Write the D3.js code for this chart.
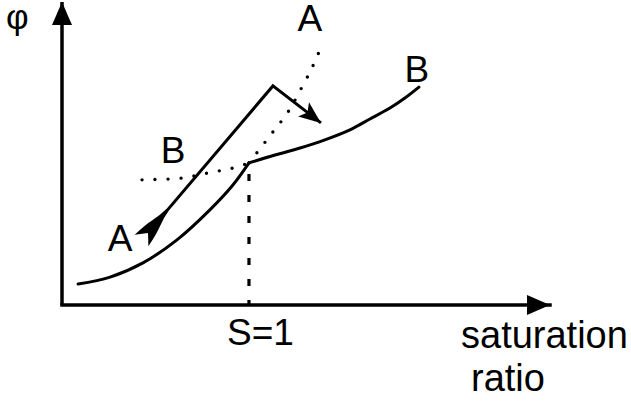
<!DOCTYPE html>
<html>
<head>
<meta charset="utf-8">
<script src="https://cdn.jsdelivr.net/npm/d3@7"></script>
<style>
  html, body { margin: 0; padding: 0; background: #fff; }
  svg { display: block; }
  text { font-family: "Liberation Sans", Arial, Helvetica, sans-serif; fill: #000; }
</style>
</head>
<body>
<svg id="chart" width="631" height="401"></svg>
<script>
// Equilibrium curve: solid, with a kink at S = 1
const eqSat = [0.086, 0.257, 0.433, 0.615, 0.791, 0.914, 1.0, 1.139, 1.273, 1.406, 1.540, 1.647, 1.754, 1.834, 1.909];
const eqPhi = [0.069, 0.092, 0.139, 0.215, 0.314, 0.396, 0.469, 0.495, 0.518, 0.545, 0.578, 0.614, 0.650, 0.683, 0.719];

// Branch A continued past S = 1 (dotted)
const branchASat = [1.0, 1.128, 1.209, 1.278, 1.342, 1.390];
const branchAPhi = [0.469, 0.571, 0.637, 0.713, 0.789, 0.858];

// Branch B continued below S = 1 (dotted)
const branchBSat = [0.428, 0.642, 0.781, 0.914, 1.0];
const branchBPhi = [0.413, 0.419, 0.436, 0.452, 0.469];

// Path followed by the system: up along A, then relaxing towards B
const pathSat = [0.460, 1.128, 1.385];
const pathPhi = [0.238, 0.723, 0.601];

// Axis ticks and titles
const xTickValues = [1];
const xTickLabels = ["S=1"];
const yTitle = "φ";
const xTitle = ["saturation", "ratio"];
const branchLabels = ["A", "B"];

const svg = d3.select("#chart");

const x = d3.scaleLinear().domain([0, 2.61]).range([62, 550]);
const y = d3.scaleLinear().domain([0, 1]).range([305, 2]);

const zip = (xs, ys) => xs.map((v, i) => [v, ys[i]]);
const line = d3.line().x(d => x(d[0])).y(d => y(d[1])).curve(d3.curveCatmullRom.alpha(0.5));
const straight = d3.line().x(d => x(d[0])).y(d => y(d[1]));

// Markers
const defs = svg.append("defs");
defs.append("marker")
  .attr("id", "axisHead").attr("markerUnits", "userSpaceOnUse")
  .attr("viewBox", "-24 -10 25 20").attr("refX", 0).attr("refY", 0)
  .attr("markerWidth", 25).attr("markerHeight", 20).attr("orient", "auto")
  .append("path").attr("d", "M0,0 L-23,-10 L-23,10 Z").attr("fill", "#000");

defs.append("marker")
  .attr("id", "tipHead").attr("markerUnits", "userSpaceOnUse")
  .attr("viewBox", "-23 -10 24 20").attr("refX", 0).attr("refY", 0)
  .attr("markerWidth", 24).attr("markerHeight", 20).attr("orient", "auto")
  .append("path").attr("d", "M0,0 L-22,-9 L-17,0 L-22,9 Z").attr("fill", "#000");

defs.append("marker")
  .attr("id", "forkHead").attr("markerUnits", "userSpaceOnUse")
  .attr("viewBox", "-34 -11 46 22").attr("refX", 0).attr("refY", 0)
  .attr("markerWidth", 46).attr("markerHeight", 22).attr("orient", "auto-start-reverse")
  .append("path")
  .attr("d", "M10,-9 L0,0 L10,9 Q-6,7 -12,5 Q-22,2 -30,1.4 L-30,-1.4 Q-22,-2 -12,-5 Q-6,-7 10,-9 Z")
  .attr("fill", "#000");

// Axes
svg.append("path")
  .attr("d", straight([[0, 0], [0, 1]]))
  .attr("stroke", "#000").attr("stroke-width", 3.5).attr("fill", "none")
  .attr("marker-end", "url(#axisHead)");
svg.append("path")
  .attr("d", straight([[0, 0], [2.61, 0]]))
  .attr("stroke", "#000").attr("stroke-width", 3.5).attr("fill", "none")
  .attr("stroke-linecap", "square")
  .attr("marker-end", "url(#axisHead)");

const xAxis = d3.axisBottom(x).tickValues(xTickValues)
  .tickFormat((d, i) => xTickLabels[i]).tickSize(0).tickPadding(14);
const gx = svg.append("g").attr("transform", `translate(0,${y(0)})`).call(xAxis);
gx.select(".domain").remove();
gx.selectAll("text").attr("font-size", 37).attr("font-family", "Liberation Sans, Arial, sans-serif")
  .attr("dx", 11);

// Dashed guide at S = 1
const kink = eqSat.indexOf(1.0);
svg.append("path")
  .attr("d", straight([[1, 0], [1, eqPhi[kink]]]))
  .attr("stroke", "#000").attr("stroke-width", 3.2).attr("fill", "none")
  .attr("stroke-dasharray", "7,14").attr("stroke-dashoffset", 2);

// Dotted continuations
[[branchASat, branchAPhi], [branchBSat, branchBPhi]].forEach(([s, p]) => {
  svg.append("path")
    .attr("d", line(zip(s, p)))
    .attr("stroke", "#000").attr("stroke-width", 3.4).attr("fill", "none")
    .attr("stroke-linecap", "round").attr("stroke-dasharray", "0,13");
});

// Equilibrium curve, drawn as two smooth pieces meeting at the kink
const eqPts = zip(eqSat, eqPhi);
[eqPts.slice(0, kink + 1), eqPts.slice(kink)].forEach(seg => {
  svg.append("path")
    .attr("d", line(seg))
    .attr("stroke", "#000").attr("stroke-width", 3).attr("fill", "none")
    .attr("stroke-linecap", "round");
});

// System path with arrow heads
svg.append("path")
  .attr("d", straight(zip(pathSat, pathPhi)))
  .attr("stroke", "#000").attr("stroke-width", 3).attr("fill", "none")
  .attr("stroke-linejoin", "miter")
  .attr("marker-start", "url(#forkHead)")
  .attr("marker-end", "url(#tipHead)");

// Titles
svg.append("text").attr("x", 6).attr("y", 29).attr("font-size", 35).text(yTitle);
const xt = svg.append("text").attr("font-size", 38);
xt.append("tspan").attr("x", 461).attr("y", 348).text(xTitle[0]);
xt.append("tspan").attr("x", 471).attr("y", 391).text(xTitle[1]);

// Branch labels
const lbl = (txt, sx, py, dx, dy) => svg.append("text")
  .attr("x", x(sx) + dx).attr("y", y(py) + dy)
  .attr("font-size", 37).attr("text-anchor", "middle").text(txt);
lbl(branchLabels[0], branchASat[branchASat.length - 1], branchAPhi[branchAPhi.length - 1], -12, -14);
lbl(branchLabels[1], eqSat[eqSat.length - 1], eqPhi[eqPhi.length - 1], -2, -5);
lbl(branchLabels[1], branchBSat[0], branchBPhi[0], 31, -17);
lbl(branchLabels[0], pathSat[0], pathPhi[0], -28, 18);
</script>
</body>
</html>
